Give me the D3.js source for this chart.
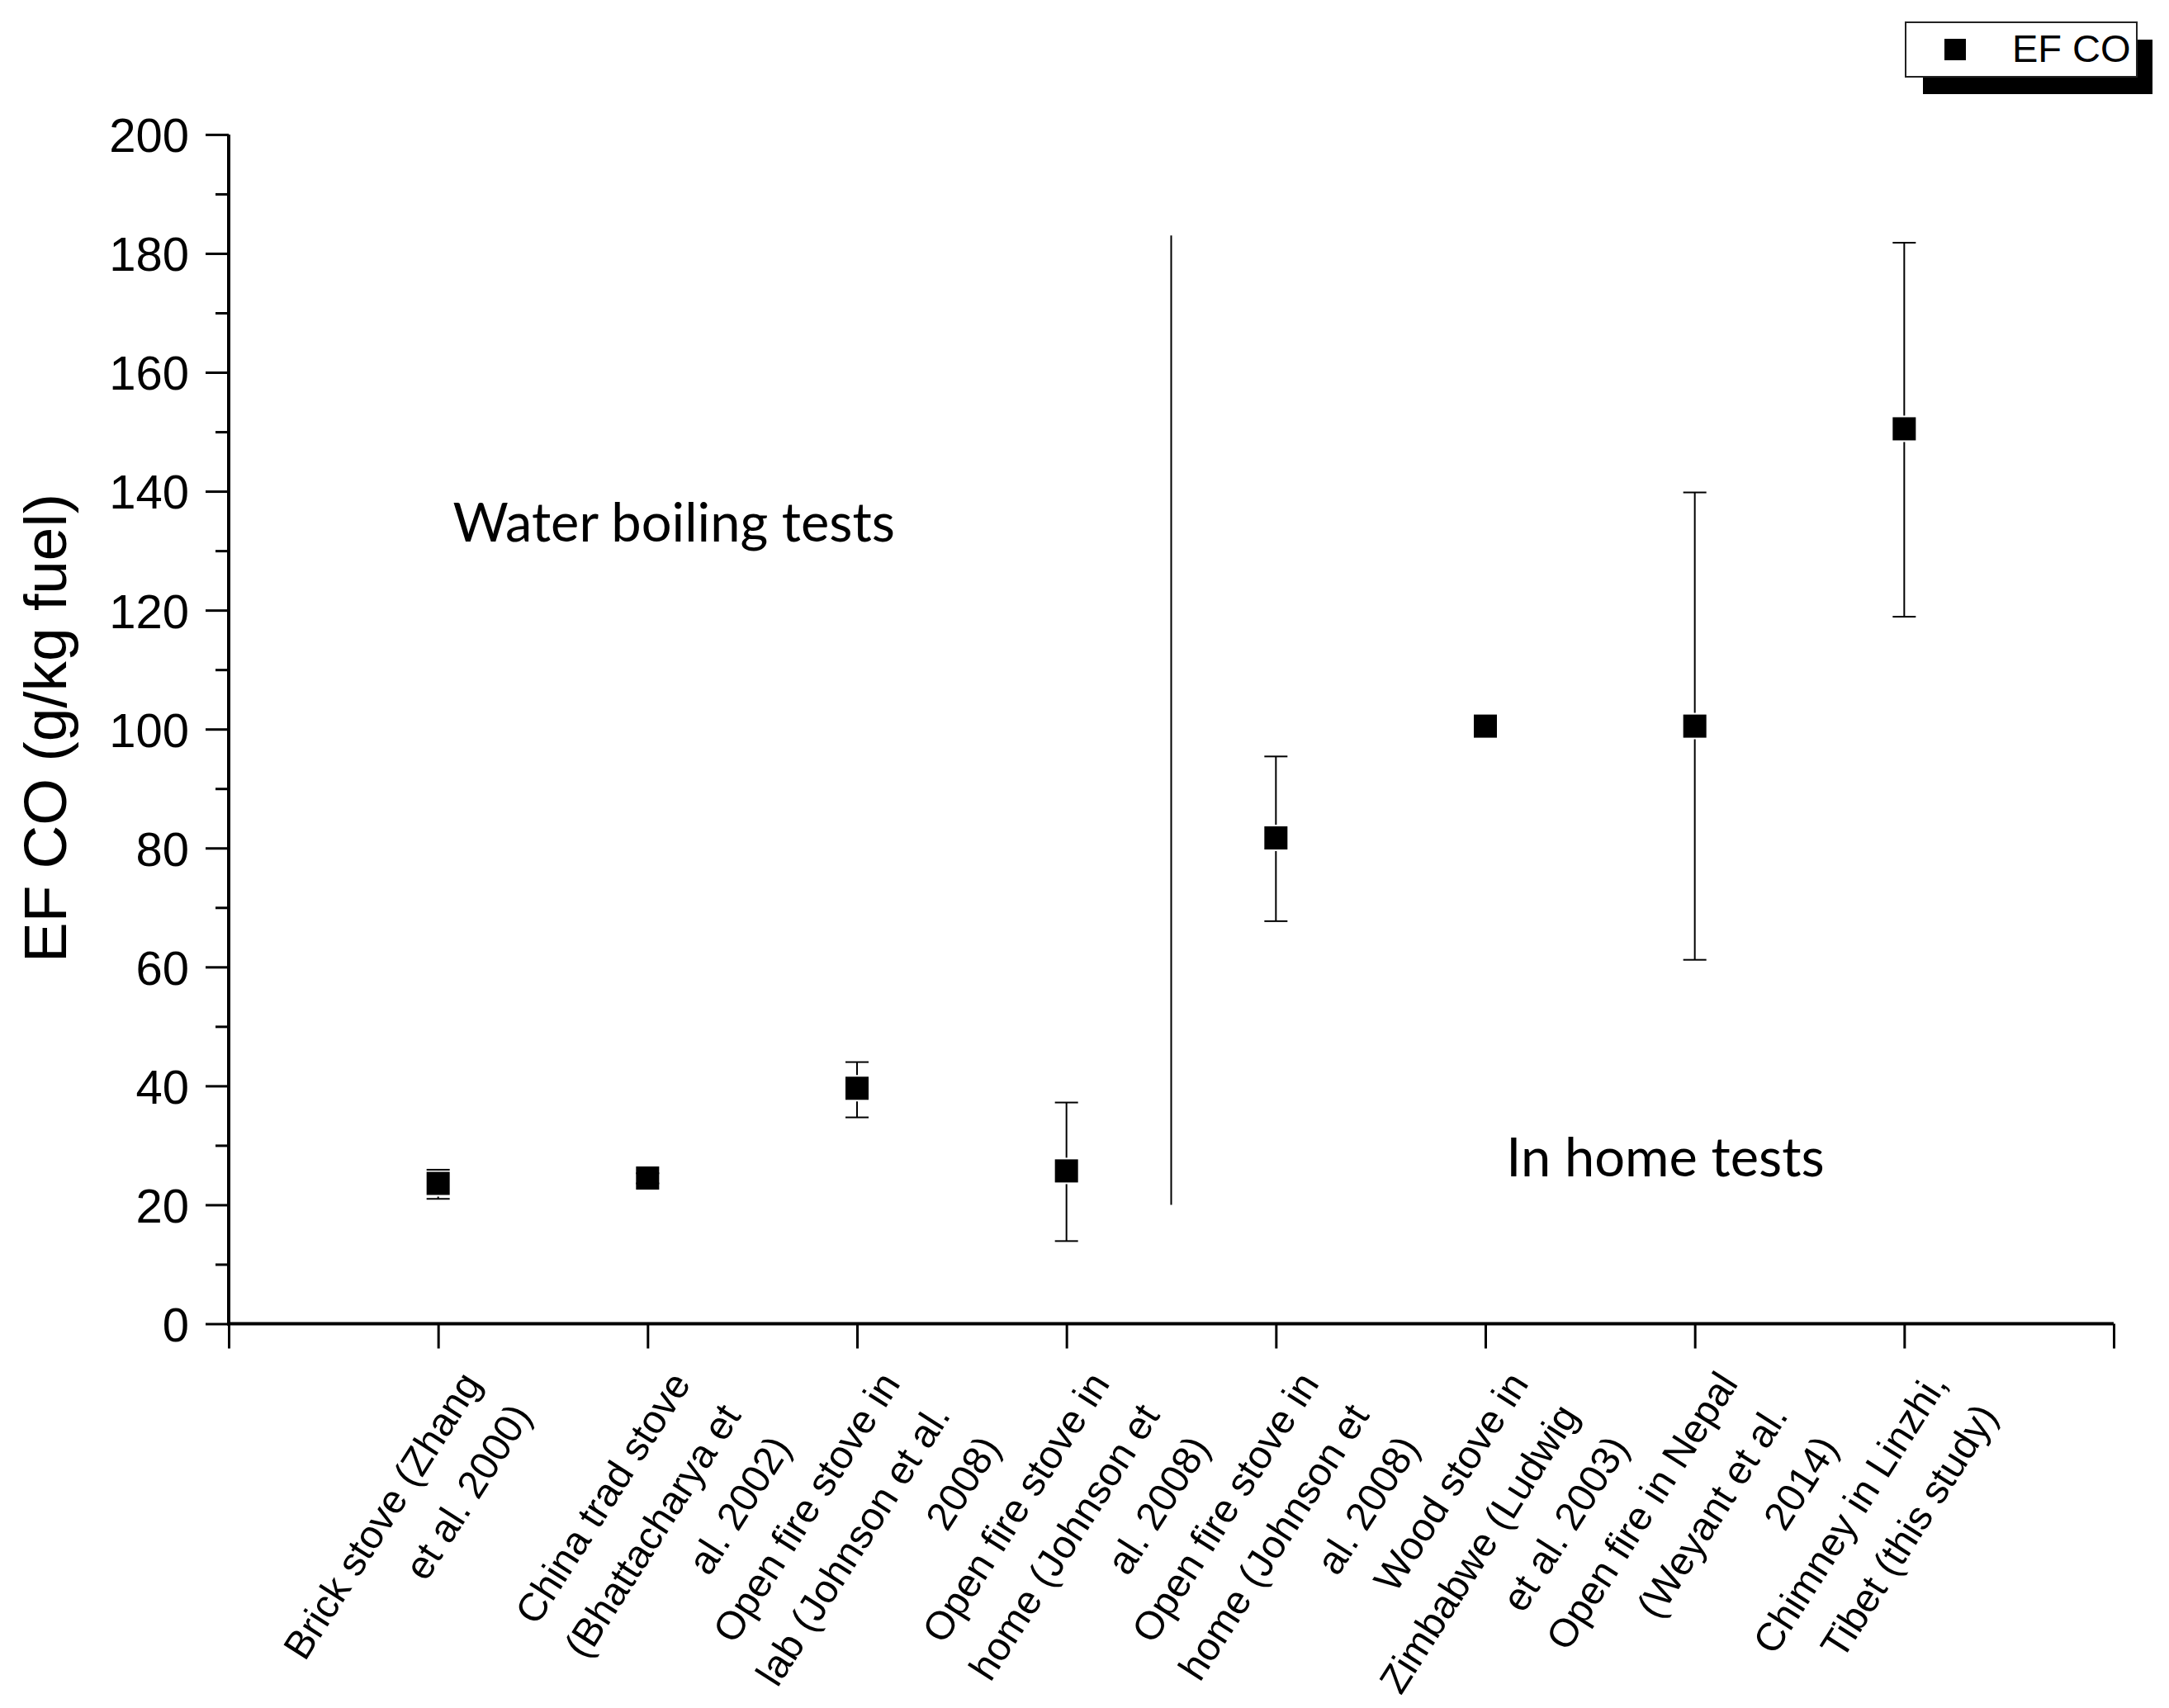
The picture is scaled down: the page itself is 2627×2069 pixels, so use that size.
<!DOCTYPE html>
<html>
<head>
<meta charset="utf-8">
<script src="https://cdn.jsdelivr.net/npm/d3@7"></script>
<style>
    body { margin: 0; background: #fff; }
    svg { display: block; }
</style>
</head>
<body>
<svg id="chart" width="2627" height="2069"></svg>
<script>
// category labels, one array of lines per stove
const categories = [
    ["Brick stove (Zhang", "et al. 2000)"],
    ["China trad stove", "(Bhattacharya et", "al. 2002)"],
    ["Open fire stove in", "lab (Johnson et al.", "2008)"],
    ["Open fire stove in", "home (Johnson et", "al. 2008)"],
    ["Open fire stove in", "home (Johnson et", "al. 2008)"],
    ["Wood stove in", "Zimbabwe (Ludwig", "et al. 2003)"],
    ["Open fire in Nepal", "(Weyant et al.", "2014)"],
    ["Chimney in Linzhi,", "Tibet (this study)"],
];
const efCO = [23.6, 24.5, 39.6, 25.7, 81.7, 100.5, 100.5, 150.5];
const errLow = [21.0, 23.6, 34.7, 13.9, 67.7, null, 61.2, 118.9];
const errHigh = [25.9, 25.3, 44.0, 37.2, 95.4, null, 139.8, 181.8];
const yTicks = [0, 20, 40, 60, 80, 100, 120, 140, 160, 180, 200];
const divider = { x: 4.5, y0: 20, y1: 183 };
const notes = [
    { text: "Water boiling tests", x: 1.07, y: 131.6 },
    { text: "In home tests", x: 6.1, y: 24.8 },
];

const svg = d3.select("#chart");
svg.append("rect").attr("width", 2627).attr("height", 2069).attr("fill", "#fff");

const x = d3.scaleLinear().domain([0, 9]).range([277, 2560]);
const y = d3.scaleLinear().domain([0, 200]).range([1603.5, 162.9]);

const sans = "'Liberation Sans', Arial, sans-serif";

// y axis, majors every 20 with minors between
const yAxis = svg.append("g").attr("transform", `translate(${x(0)},0)`);
yAxis.append("g")
    .call(d3.axisLeft(y).tickValues(d3.range(10, 200, 20)).tickSize(16).tickFormat(""))
    .call(g => g.select(".domain").remove());
yAxis.append("g")
    .call(d3.axisLeft(y).tickValues(yTicks).tickSize(28).tickPadding(20))
    .call(g => g.select(".domain").attr("stroke-width", 4).attr("d", `M0,${y(0) + 2}V${y(200)}`));
yAxis.selectAll(".tick line").attr("stroke", "#000").attr("stroke-width", 3);
yAxis.selectAll(".tick text")
    .attr("font-family", sans)
    .attr("font-size", 58)
    .attr("fill", "#000")
    .attr("dy", "0.36em");

// x axis
const xAxis = svg.append("g").attr("transform", `translate(0,${y(0)})`);
xAxis.call(d3.axisBottom(x).tickValues(d3.range(0, 10)).tickSize(30).tickFormat(""))
    .call(g => g.select(".domain").attr("stroke-width", 4).attr("d", `M${x(0) - 2},0H${x(9)}`));
xAxis.selectAll(".tick line").attr("stroke", "#000").attr("stroke-width", 3);

// rotated category labels, right aligned at the end of the first line
const labels = svg.append("g")
    .selectAll("text")
    .data(categories)
    .join("text")
    .attr("transform", (d, i) => `translate(${x(i + 1)},${y(0) + 30}) rotate(-57.5)`)
    .attr("font-family", sans)
    .attr("font-size", 48)
    .attr("text-anchor", "end")
    .attr("fill", "#000");
labels.selectAll("tspan")
    .data(d => d)
    .join("tspan")
    .attr("x", -7)
    .attr("y", (d, j) => 68 + j * 72)
    .text(d => d);

// y axis title
svg.append("text")
    .attr("transform", `translate(80,882) rotate(-90)`)
    .attr("font-family", sans)
    .attr("font-size", 73)
    .attr("text-anchor", "middle")
    .attr("fill", "#000")
    .text("EF CO (g/kg fuel)");

// divider between the two groups of tests
svg.append("line")
    .attr("x1", x(divider.x))
    .attr("x2", x(divider.x))
    .attr("y1", y(divider.y0))
    .attr("y2", y(divider.y1))
    .attr("stroke", "#000")
    .attr("stroke-width", 2);

svg.append("g")
    .selectAll("text")
    .data(notes)
    .join("text")
    .attr("x", d => x(d.x))
    .attr("y", d => y(d.y))
    .attr("font-family", "Lato, 'Open Sans', sans-serif")
    .attr("font-size", 65)
    .attr("fill", "#000")
    .text(d => d.text);

// error bars, kept clear of the marker
const points = efCO.map((v, i) => ({ i: i + 1, v, lo: errLow[i], hi: errHigh[i] }));
const half = 14;
const bars = svg.append("g")
    .selectAll("g")
    .data(points.filter(d => d.lo !== null))
    .join("g")
    .attr("stroke", "#000")
    .attr("stroke-width", 2);
bars.append("line")
    .attr("x1", d => x(d.i)).attr("x2", d => x(d.i))
    .attr("y1", d => y(d.hi)).attr("y2", d => Math.max(y(d.hi), y(d.v) - half - 2));
bars.append("line")
    .attr("x1", d => x(d.i)).attr("x2", d => x(d.i))
    .attr("y1", d => y(d.lo)).attr("y2", d => Math.min(y(d.lo), y(d.v) + half + 2));
bars.append("line")
    .attr("x1", d => x(d.i) - 14).attr("x2", d => x(d.i) + 14)
    .attr("y1", d => y(d.hi)).attr("y2", d => y(d.hi));
bars.append("line")
    .attr("x1", d => x(d.i) - 14).attr("x2", d => x(d.i) + 14)
    .attr("y1", d => y(d.lo)).attr("y2", d => y(d.lo));

// square markers
svg.append("g")
    .selectAll("rect")
    .data(points)
    .join("rect")
    .attr("x", d => x(d.i) - half)
    .attr("y", d => y(d.v) - half)
    .attr("width", half * 2)
    .attr("height", half * 2)
    .attr("fill", "#000");

// legend with drop shadow
const legend = svg.append("g");
legend.append("rect")
    .attr("x", 2329).attr("y", 48).attr("width", 278).attr("height", 66)
    .attr("fill", "#000");
legend.append("rect")
    .attr("x", 2308).attr("y", 27).attr("width", 280).attr("height", 66)
    .attr("fill", "#fff").attr("stroke", "#222").attr("stroke-width", 2);
legend.append("rect")
    .attr("x", 2355).attr("y", 47).attr("width", 26).attr("height", 26)
    .attr("fill", "#000");
legend.append("text")
    .attr("x", 2437).attr("y", 75)
    .attr("font-family", sans)
    .attr("font-size", 47)
    .attr("fill", "#000")
    .text("EF CO");
</script>
</body>
</html>
